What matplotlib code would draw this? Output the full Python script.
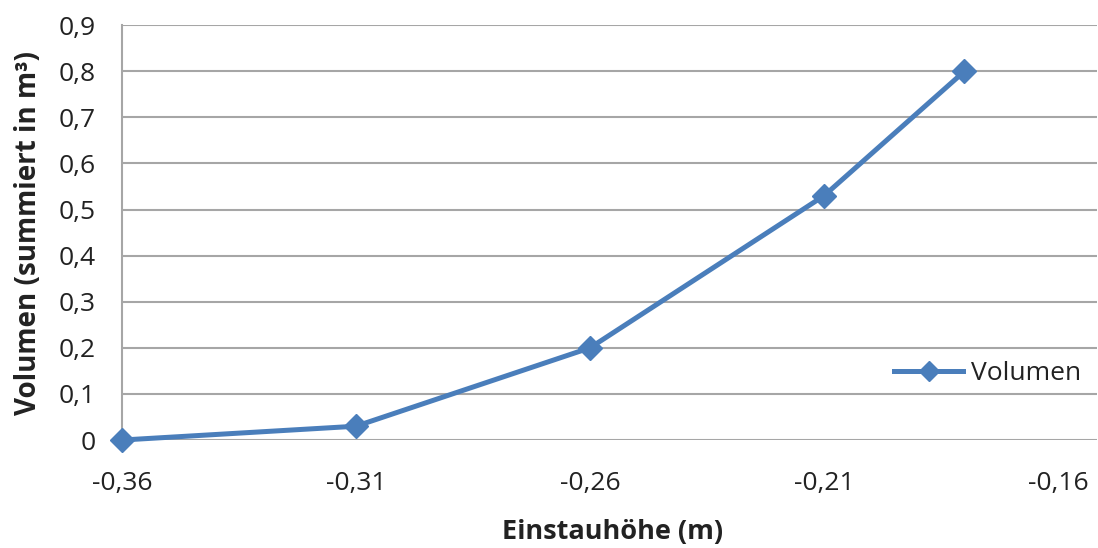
import numpy as np
import matplotlib
matplotlib.use("Agg")
import matplotlib.pyplot as plt
from matplotlib.ticker import FuncFormatter, MultipleLocator

# Einstauhöhe (m) und summiertes Volumen (m³)
einstau = [-0.36, -0.31, -0.26, -0.21, -0.18]
volumen = [0.0, 0.03, 0.2, 0.53, 0.8]

x_ticks = [-0.36, -0.31, -0.26, -0.21, -0.16]
y_ticks = [0, 0.1, 0.2, 0.3, 0.4, 0.5, 0.6, 0.7, 0.8, 0.9]

blue = "#4a7ebb"
grid = "#a6a6a6"

plt.rcParams['font.family'] = ['Open Sans', 'DejaVu Sans']

fig = plt.figure(figsize=(10.98, 5.48), dpi=100)
ax = fig.add_axes([0.111, 0.197, 0.888, 0.757])

ax.plot(einstau, volumen, color=blue, lw=3.6, marker='D', markersize=12.5,
        markeredgecolor=blue, markerfacecolor=blue, label='Volumen',
        clip_on=False, zorder=3)

ax.set_xlim(-0.36, -0.1517)
ax.set_ylim(0, 0.9)
ax.set_xticks(x_ticks)
ax.set_yticks(y_ticks)


def komma(v, pos):
    s = "%g" % round(v, 2)
    return s.replace('.', ',')


ax.xaxis.set_major_formatter(FuncFormatter(komma))
ax.yaxis.set_major_formatter(FuncFormatter(komma))
ax.tick_params(axis='x', length=0, pad=22, labelsize=19, colors='#222222')
ax.tick_params(axis='y', length=0, pad=19, labelsize=19, colors='#222222')

ax.grid(axis='y', color=grid, lw=1.5)
ax.set_axisbelow(True)
for s in ['top', 'right', 'bottom']:
    ax.spines[s].set_visible(False)
ax.spines['left'].set_color(grid)
ax.spines['left'].set_linewidth(1.5)

fig.text(0.558, 0.029, "Einstauhöhe (m)", ha='center', va='center',
         fontsize=19.5, fontweight='bold', color='#222222')
fig.text(0.026, 0.575, "Volumen (summiert in m³)", ha='center', va='center',
         rotation=90, fontsize=20, fontweight='bold', color='#222222')

leg = ax.legend(loc='center right', bbox_to_anchor=(1.0, 0.16), frameon=False,
                fontsize=19, handlelength=2.6, handletextpad=0.3,
                borderaxespad=0.2, markerscale=0.8)
for t in leg.get_texts():
    t.set_color('#222222')

fig.savefig("out.png", dpi=100)
